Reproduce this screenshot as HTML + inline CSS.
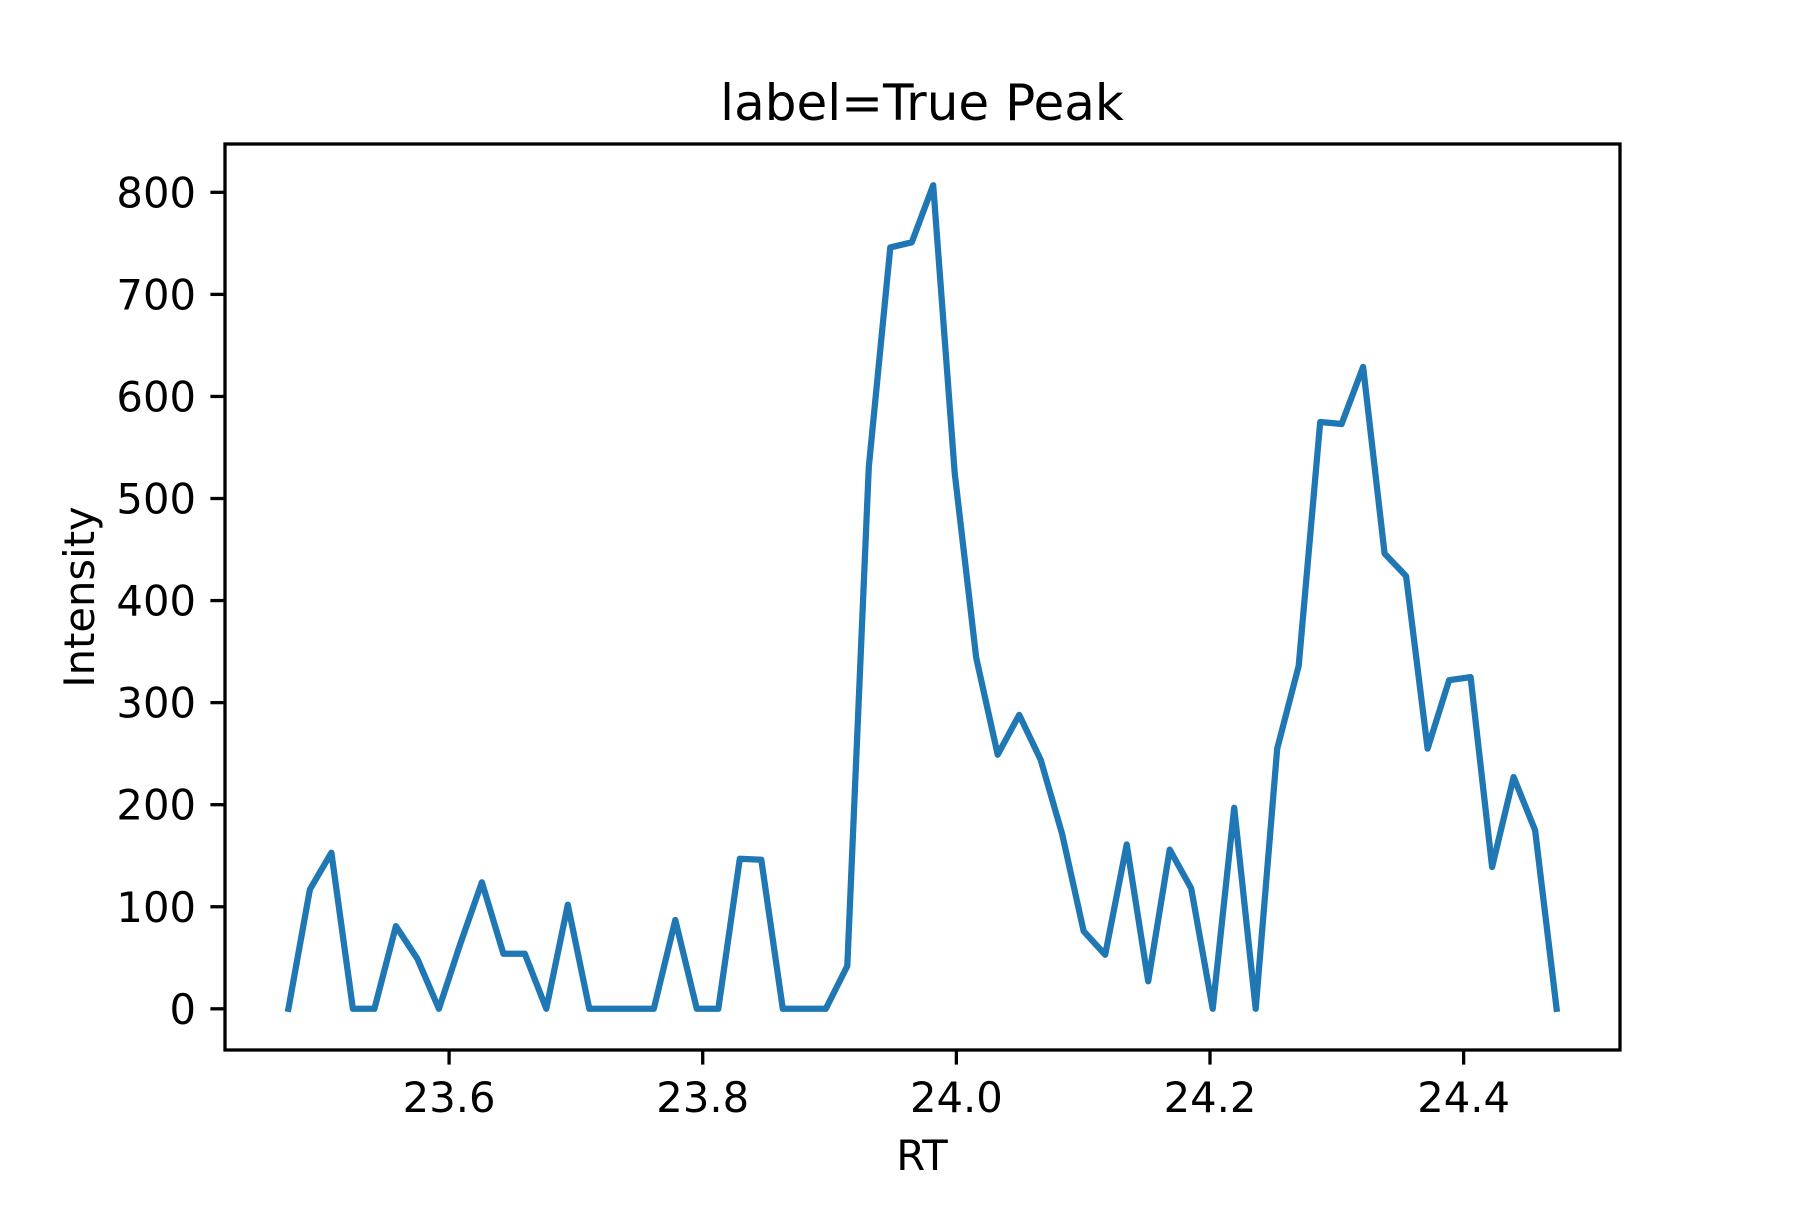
<!DOCTYPE html>
<html><head><meta charset="utf-8"><style>
html,body{margin:0;padding:0;background:#fff;}
svg text{font-family:"DejaVu Sans","Liberation Sans",sans-serif;fill:#000;}
</style></head><body>
<svg id="chart" width="1800" height="1200" viewBox="0 0 1800 1200" xmlns="http://www.w3.org/2000/svg">
<rect width="1800" height="1200" fill="#fff"/>
<text x="922" y="120" font-size="50" text-anchor="middle">label=True Peak</text>
<g id="marks"></g>
<g id="axes"></g>
<text x="922" y="1170" font-size="41.7" text-anchor="middle">RT</text>
<text transform="translate(94,597) rotate(-90)" font-size="41.7" text-anchor="middle">Intensity</text>
</svg>
<script>
const intensity = [0,117,153,0,0,81,49,0,64,124,54,54,0,102,0,0,0,0,87,0,0,147,146,0,0,0,42,531,746,751,807,525,344,249,288,244,171,76,53,161,27,156,118,0,197,0,255,336,575,573,629,446,424,255,322,325,139,227,175,0];
const rtStart = 23.4733, rtEnd = 24.4733;
const xTicks = [23.6, 23.8, 24.0, 24.2, 24.4];
const xTickLabels = ["23.6","23.8","24.0","24.2","24.4"];
const yTicks = [0,100,200,300,400,500,600,700,800];
const yTickLabels = ["0","100","200","300","400","500","600","700","800"];

const L=225,R=1620,T=144,B=1050;
const rtVals = intensity.map((_,i)=>rtStart+(rtEnd-rtStart)*i/(intensity.length-1));
const xr=rtEnd-rtStart, xmin=rtStart-0.05*xr, xmax=rtEnd+0.05*xr;
const ymaxD=Math.max(...intensity), yminD=Math.min(...intensity), yr=ymaxD-yminD;
const ymin=yminD-0.05*yr, ymax=ymaxD+0.05*yr;
const sx=v=>L+(v-xmin)/(xmax-xmin)*(R-L);
const sy=v=>B-(v-ymin)/(ymax-ymin)*(B-T);
const NS="http://www.w3.org/2000/svg";
const marks=document.getElementById('marks'), axes=document.getElementById('axes');

const line=document.createElementNS(NS,'polyline');
line.setAttribute('points',intensity.map((v,i)=>sx(rtVals[i]).toFixed(1)+','+sy(v).toFixed(1)).join(' '));
line.setAttribute('fill','none');line.setAttribute('stroke','#1f77b4');
line.setAttribute('stroke-width','6.25');line.setAttribute('stroke-linejoin','round');line.setAttribute('stroke-linecap','square');


marks.appendChild(line);

const frame=document.createElementNS(NS,'rect');
frame.setAttribute('x',L);frame.setAttribute('y',T);frame.setAttribute('width',R-L);frame.setAttribute('height',B-T);
frame.setAttribute('fill','none');frame.setAttribute('stroke','#000');frame.setAttribute('stroke-width','3.3');


axes.appendChild(frame);

xTicks.forEach((t,i)=>{
  const x=sx(t);
  const tk=document.createElementNS(NS,'line');
  tk.setAttribute('x1',x);tk.setAttribute('x2',x);tk.setAttribute('y1',B);tk.setAttribute('y2',B+14.6);
  tk.setAttribute('stroke','#000');tk.setAttribute('stroke-width','3.3');
  
  
  axes.appendChild(tk);
  const lb=document.createElementNS(NS,'text');
  lb.setAttribute('x',x);lb.setAttribute('y',B+62);lb.setAttribute('font-size','41.7');lb.setAttribute('text-anchor','middle');
  lb.textContent=xTickLabels[i];
  
  
  axes.appendChild(lb);
});
yTicks.forEach((t,i)=>{
  const y=sy(t);
  const tk=document.createElementNS(NS,'line');
  tk.setAttribute('x1',L-14.6);tk.setAttribute('x2',L);tk.setAttribute('y1',y);tk.setAttribute('y2',y);
  tk.setAttribute('stroke','#000');tk.setAttribute('stroke-width','3.3');
  
  
  axes.appendChild(tk);
  const lb=document.createElementNS(NS,'text');
  lb.setAttribute('x',L-29);lb.setAttribute('y',y+15);lb.setAttribute('font-size','41.7');lb.setAttribute('text-anchor','end');
  lb.textContent=yTickLabels[i];
  
  
  axes.appendChild(lb);
});
</script>
</body></html>
